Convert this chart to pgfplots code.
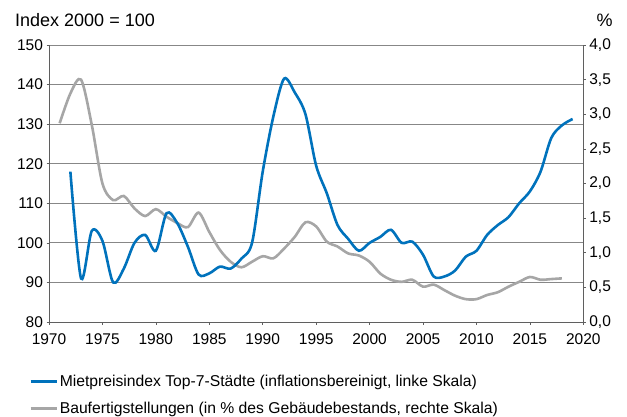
\documentclass[border=0pt]{standalone}
\usepackage{fontspec}
\setmainfont{Liberation Sans}
\usepackage{pgfplots}
\usepackage{pgfplotstable}
\pgfplotsset{compat=1.18}
\definecolor{mblue}{RGB}{0,114,188}
\definecolor{mgray}{RGB}{166,166,166}
\definecolor{gridgray}{RGB}{135,135,135}
\definecolor{axgray}{RGB}{95,95,95}

\pgfplotstableread{
year idx
1972 118
1973 91
1974 103
1975 100.5
1976 90
1977 93.5
1978 100
1979 102
1980 98
1981 107.5
1982 105
1983 99
1984 92
1985 92.3
1986 94
1987 93.5
1988 96
1989 100
1990 118
1991 132
1992 141.5
1993 138
1994 132.5
1995 119.5
1996 112.5
1997 104.5
1998 101
1999 98
2000 100
2001 101.5
2002 103.3
2003 100
2004 100.3
2005 97
2006 91.5
2007 91.5
2008 93
2009 96.5
2010 98
2011 102
2012 104.5
2013 106.5
2014 110
2015 113
2016 118
2017 126.5
2018 129.7
2019 131.3
}\rent

\pgfplotstableread{
year pct
1971 2.87
1972 3.30
1973 3.50
1974 2.85
1975 2.00
1976 1.76
1977 1.82
1978 1.64
1979 1.53
1980 1.63
1981 1.52
1982 1.43
1983 1.37
1984 1.58
1985 1.30
1986 1.04
1987 0.87
1988 0.79
1989 0.87
1990 0.95
1991 0.92
1992 1.06
1993 1.23
1994 1.44
1995 1.38
1996 1.16
1997 1.09
1998 0.99
1999 0.96
2000 0.87
2001 0.70
2002 0.61
2003 0.58
2004 0.61
2005 0.51
2006 0.54
2007 0.46
2008 0.38
2009 0.33
2010 0.33
2011 0.39
2012 0.43
2013 0.51
2014 0.58
2015 0.65
2016 0.61
2017 0.62
2018 0.63
}\bau

\newcommand{\tf}{\fontsize{15.5bp}{18bp}\selectfont}
\newcommand{\lf}{\fontsize{15.7bp}{18bp}\selectfont}
\newcommand{\hf}{\fontsize{18bp}{21bp}\selectfont}

\begin{document}
\begin{tikzpicture}[x=1bp,y=1bp]
\useasboundingbox (0,0) rectangle (627,416);
\pgfplotsset{
  common/.style={
    at={(49bp,94bp)}, anchor=south west,
    scale only axis, width=534.3bp, height=277bp,
    xmin=1970, xmax=2020,
    /pgf/number format/assume math mode=true,
    tick label style={font=\tf},
    axis line style={draw=axgray, line width=0.9bp, -},
    tick style={draw=axgray, line width=0.7bp},
    tick align=outside, major tick length=2.5bp,
  }
}
% Axis A: left scale, grid, x axis, legend
\begin{axis}[common,
  ymin=80, ymax=150,
  xtick={1970,1975,...,2020}, ytick={80,90,...,150},
  xticklabel style={/pgf/number format/1000 sep={}, yshift=-6bp},
  axis x line*=bottom, axis y line*=left,
  ymajorgrids, grid style={draw=gridgray, line width=0.8bp},
  legend style={at={(axis description cs:-0.0374,-0.184)}, anchor=north west,
    draw=none, fill=none, font=\lf, inner sep=0pt, row sep=10bp,
    cells={anchor=west}},
  legend image code/.code={\draw[#1] (0bp,0bp) -- (26bp,0bp);},
]
\addlegendimage{mblue, line width=2.6bp}
\addlegendimage{mgray, line width=2.6bp}
\legend{{Mietpreisindex Top-7-Städte (inflationsbereinigt{,} linke Skala)},
        {Baufertigstellungen (in \% des Gebäudebestands{,} rechte Skala)}}
\end{axis}
% Axis B: right scale, gray line
\begin{axis}[common,
  ymin=0, ymax=4,
  axis x line=none, axis y line*=right,
  ytick={0,0.5,...,4},
  yticklabel style={/pgf/number format/.cd, fixed, fixed zerofill, precision=1, use comma},
]
\addplot[mgray, line width=2.6bp, smooth] table[x=year, y=pct] {\bau};
\end{axis}
% Axis C: left scale, blue line
\begin{axis}[common,
  ymin=80, ymax=150, hide axis,
]
\addplot[mblue, line width=2.6bp, smooth] table[x=year, y=idx] {\rent};
\end{axis}
\node[anchor=west, font=\hf, inner sep=0pt] at (15,396) {Index 2000 = 100};
\node[anchor=center, font=\hf, inner sep=0pt] at (604.5,396) {\%};
\end{tikzpicture}
\end{document}
